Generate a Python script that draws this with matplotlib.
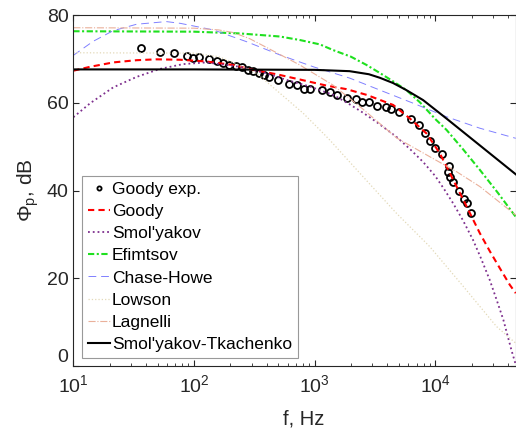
import numpy as np
import matplotlib
matplotlib.use("Agg")
import matplotlib.pyplot as plt

plt.rcParams['font.family'] = ['Liberation Sans', 'DejaVu Sans']
plt.rcParams['mathtext.fontset'] = 'custom'
plt.rcParams['mathtext.rm'] = 'Liberation Sans'
plt.rcParams['mathtext.it'] = 'Liberation Sans'

# measured points (Goody experiment)
exp_f = [36.4, 52.6, 68.7, 87.9, 98.6, 110.7, 132.4, 154.3, 174.9, 196, 221, 251,
         282, 306, 343, 382, 420, 499, 616, 718, 820, 923, 1149, 1339, 1521, 1852,
         2198, 2466, 2818, 3283, 3899, 4266, 5040, 6275, 7313, 8150, 9020, 9930,
         11350, 12970, 12640, 13210, 13990, 15740, 17260, 18200, 19730]
exp_db = [72.4, 71.6, 71.3, 70.6, 70.3, 70.4, 70.0, 69.5, 69.0, 68.7, 68.3, 68.1,
          67.5, 67.2, 66.7, 66.3, 65.9, 65.2, 64.3, 64.0, 63.1, 63.1, 62.9, 62.4,
          61.8, 61.0, 60.9, 60.2, 60.2, 59.3, 59.1, 58.6, 58.0, 56.2, 55.0, 53.1,
          51.2, 49.8, 48.4, 45.7, 44.2, 43.1, 41.9, 39.9, 38.1, 37.1, 34.8]

# model spectra
goody_f = [10, 13.8, 21.5, 33.5, 49, 77, 127, 212, 310, 484, 755, 1260, 1840, 2700,
           4480, 6170, 8470, 10900, 13200, 17000, 23400, 28300, 34300, 41500, 46500]
goody_db = [67.3, 68.2, 69.2, 69.7, 69.9, 69.8, 69.4, 68.6, 67.5, 66.5, 65.3, 63.9,
            63.1, 61.8, 59.5, 56.4, 53.0, 48.5, 44.0, 38.0, 30.3, 26.2, 22.3, 18.5, 16.6]

smol_f = [10, 13.8, 21.4, 33.5, 52, 81, 127, 240, 400, 587, 914, 1426, 1963, 2530,
          3266, 4786, 6310, 7943, 10000, 11860, 14060, 16980, 20600, 23990, 28310,
          32360, 36730, 42850, 46500]
smol_db = [56.7, 59.9, 63.5, 65.9, 67.7, 68.8, 69.2, 68.2, 66.7, 65.2, 63.7, 61.8,
           59.6, 57.7, 55.6, 52.2, 49.2, 46.5, 43.3, 40.3, 37.1, 33.2, 28.7, 24.5,
           19.6, 15.0, 10.5, 3.6, 0.3]

efim_f = [10, 100, 240, 515, 755, 1107, 1426, 2000, 2700, 3467, 4467, 5754, 7465,
          10000, 12420, 17000, 23440, 33000, 46500]
efim_db = [76.3, 76.2, 75.8, 75.1, 74.3, 73.3, 72.0, 70.5, 68.6, 66.8, 64.9, 62.9,
           60.1, 56.3, 53.8, 49.4, 44.7, 39.5, 34.0]

chase_f = [10, 14.6, 21.3, 33.5, 59, 77, 145, 274, 516, 976, 1963, 3467, 6560,
           12420, 23440, 46500]
chase_db = [70.8, 74.0, 76.4, 77.9, 78.5, 78.1, 76.6, 73.9, 70.9, 68.2, 65.6, 62.9,
            59.9, 56.8, 54.2, 51.9]

lowson_f = [10, 100, 160, 220, 330, 500, 805, 1107, 1337, 2530, 4775, 9016,
            17140, 32210, 46500]
lowson_db = [71.4, 71.3, 70.5, 69.0, 66.7, 62.5, 57.6, 53.8, 51.5, 43.1, 34.8, 27.2,
             18.1, 9.0, 5.2]

lag_f = [10, 100, 160, 212, 290, 400, 550, 755, 1426, 2530, 4775, 9016, 15000,
         23440, 46500]
lag_db = [77.1, 77.0, 76.6, 76.0, 74.6, 72.6, 70.6, 68.6, 64.0, 58.5, 52.0, 47.7,
          44.3, 40.9, 34.4]

st_f = [10, 100, 1000, 1950, 2820, 3470, 4470, 5750, 7940, 12400, 23400, 46500]
st_db = [67.6, 67.6, 67.5, 67.2, 66.5, 65.7, 64.5, 62.9, 60.6, 56.4, 50.3, 43.7]

fig = plt.figure(figsize=(5.16, 4.30), dpi=100)
ax = fig.add_axes([0.1421, 0.1488, 0.8585, 0.8163])

ax.plot(exp_f, exp_db, 'o', mfc='none', mec='black', ms=5, mew=1.3, label='Goody exp.')
ax.plot(goody_f, goody_db, color='red', ls='--', lw=1.5, dashes=(3, 2), label='Goody')
ax.plot(smol_f, smol_db, color='#7E2F8E', ls=':', lw=1.3, label="Smol'yakov")
ax.plot(efim_f, efim_db, color='#1fe01f', lw=1.5, dashes=(3, 1.2, 1, 1.2), label='Efimtsov')
ax.plot(chase_f, chase_db, color='#8080ff', lw=0.7, dashes=(8, 5), label='Chase-Howe')
ax.plot(lowson_f, lowson_db, color='#e3d9b8', ls=':', lw=0.9, label='Lowson')
ax.plot(lag_f, lag_db, color='#eab09a', ls='-.', lw=0.8, label='Lagnelli')
ax.plot(st_f, st_db, color='black', lw=1.5, label="Smol'yakov-Tkachenko")

ax.set_xscale('log')
ax.set_xlim(10, 4.7e4)
ax.set_ylim(0, 80)
ax.set_yticks([0, 20, 40, 60, 80])

ax.tick_params(which='both', direction='in', top=True, right=True,
               labelsize=14, colors='#262626')
ax.tick_params(which='major', length=4, width=0.8)
ax.tick_params(which='minor', length=2.5, width=0.6)
ax.tick_params(axis='x', pad=6)
for s in ax.spines.values():
    s.set_color('#262626')
    s.set_linewidth(0.8)

# lift the bottom "0" so it clears the 10^1 label
ax.get_yticklabels()[0].set_va('bottom')

ax.set_xlabel('f, Hz', fontsize=14.5, color='#262626')
ax.set_ylabel(r'$\mathregular{\Phi_p}$, dB', fontsize=15, color='#262626', labelpad=4)
ax.xaxis.set_label_coords(0.519, -0.125)

leg = ax.legend(loc='lower left', bbox_to_anchor=(0.019, 0.023), borderaxespad=0,
                fontsize=12.5, handlelength=1.3, handletextpad=0.1, labelspacing=0.4,
                borderpad=0.35, markerscale=0.6, fancybox=False, framealpha=1)
leg.get_frame().set_edgecolor('#999999')
leg.get_frame().set_linewidth(0.8)

fig.savefig('out.png', dpi=100)
plt.close(fig)
